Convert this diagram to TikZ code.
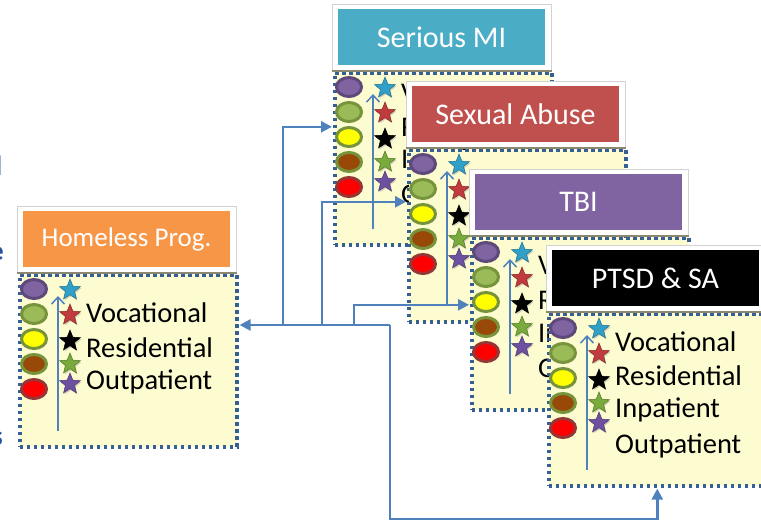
\documentclass[tikz,border=0pt]{standalone}
\usepackage{fontspec}
\setmainfont{Carlito}
\usetikzlibrary{arrows.meta,shapes.geometric,shadows}

\definecolor{bodyfill}{RGB}{252,252,208}
\definecolor{dotblue}{RGB}{54,96,146}
\definecolor{linkblue}{RGB}{79,129,189}
\definecolor{fragblue}{RGB}{35,82,160}
\definecolor{hporange}{RGB}{247,150,70}
\definecolor{smiteal}{RGB}{75,172,198}
\definecolor{sared}{RGB}{192,80,77}
\definecolor{tbipurple}{RGB}{128,100,162}
\definecolor{ovpurple}{RGB}{128,100,162}
\definecolor{ovpurpleedge}{RGB}{95,73,122}
\definecolor{ovgreen}{RGB}{155,187,89}
\definecolor{ovolive}{RGB}{119,147,60}
\definecolor{ovyellow}{RGB}{255,255,0}
\definecolor{ovbrown}{RGB}{152,72,7}
\definecolor{ovred}{RGB}{255,0,0}
\definecolor{ovrededge}{RGB}{149,55,53}
\definecolor{starcyan}{RGB}{49,160,200}
\definecolor{starred}{RGB}{192,60,60}
\definecolor{stargreen}{RGB}{120,170,60}
\definecolor{starpurple}{RGB}{110,80,160}
\definecolor{basegray}{RGB}{140,136,112}

\tikzset{
  panelbody/.style={draw=dotblue, fill=bodyfill, line width=3.6pt,
    dash pattern=on 3.6pt off 3.4pt, minimum width=217pt, minimum height=172pt,
    anchor=north west, inner sep=0pt},
  titleframe/.style={draw=gray!35, fill=white, line width=0.8pt,
    minimum width=219pt, minimum height=66pt, anchor=south west, inner sep=0pt},
  titlebar/.style={fill=#1, minimum width=207pt, minimum height=56pt,
    inner sep=0pt, text=white, font=\fontsize{30}{32}\selectfont},
  framebase/.style={draw=basegray, line width=2.5pt},
  dot/.style={ellipse, minimum width=25pt, minimum height=19pt,
    inner sep=0pt, line width=3pt},
  rankstar/.style={star, star points=5, star point ratio=2.3, fill=#1,
    draw=#1!70!black, line width=0.5pt, minimum size=22pt, inner sep=0pt,
    drop shadow={shadow xshift=1pt, shadow yshift=-1.5pt, opacity=0.35}},
  itemtext/.style={anchor=west, inner sep=0pt, font=\fontsize{28.5}{30}\selectfont},
  fragtext/.style={anchor=east, inner sep=0pt, text=fragblue,
    font=\bfseries\fontsize{28}{30}\selectfont},
  rise/.style={draw=linkblue, line width=1.5pt, -{Straight Barb[length=7pt,width=13pt]}},
  link/.style={draw=linkblue, line width=2.5pt, shorten >=1pt,
    -{Triangle[length=11pt,width=11pt]}},
}

% #1 name, #2 x, #3 y of body top-left, #4 bar colour, #5 title, #6 item list
\newcommand{\carepanel}[6]{%
  \begin{scope}[shift={(#2,#3)}]
    \node[panelbody] (#1Body) at (0,0) {};
    \node[titleframe] (#1Frame) at (-1,0) {};
    \node[titlebar=#4] (#1Title) at (108.5,-34) {#5};
    \draw[framebase] (#1Frame.south west) -- (#1Frame.south east);
    \foreach \fc/\ec [count=\i] in {ovpurple/ovpurpleedge, ovgreen/ovolive,
        ovyellow/ovolive, ovbrown/ovolive, ovred/ovrededge}
      \node[dot, fill=\fc, draw=\ec] (#1Dot\i) at (16,{16+25*(\i-1)}) {};
    \coordinate (#1Low) at (40,158);
    \coordinate (#1High) at (40,23);
    \draw[rise] (#1Low) -- (#1High);
    \foreach \sc/\sy [count=\i] in {starcyan/17, starred/42, black/68,
        stargreen/91, starpurple/111}
      \node[rankstar=\sc] (#1Star\i) at (52,\sy) {};
    \foreach \ty/\tx [count=\i] in {#6}
      \node[itemtext] (#1Item\i) at (68,\ty) {\tx};
  \end{scope}}

\begin{document}
\begin{tikzpicture}[x=1pt, y=-1pt]
  \useasboundingbox (0,0) rectangle (761,523);

  % cut-off letters at the left edge
  \node[fragtext] (fragA) at (2.5,166) {l};
  \node[fragtext] (fragB) at (4,254) {e};
  \node[fragtext] (fragC) at (3,439) {s};

  \carepanel{hp}{18}{273}{hporange}{{\fontsize{27}{29}\selectfont Homeless Prog.}}
    {40/Vocational, 75/Residential, 109/Outpatient}
  \carepanel{smi}{333}{71}{smiteal}{Serious MI}
    {22/Vocational, 56/Residential, 90/Inpatient, 125/Outpatient}
  \carepanel{sa}{407}{148}{sared}{Sexual Abuse}
    {38/Vocational, 72/Residential, 106/Inpatient, 140/Outpatient}
  \carepanel{tbi}{470}{236}{tbipurple}{TBI}
    {29/Vocational, 64/Residential, 99/Inpatient, 134/Outpatient}
  \carepanel{ptsd}{547}{312}{black}{PTSD \& SA}
    {30/Vocational, 64/Residential, 98/Inpatient, 134/Outpatient}

  % referral lines
  \coordinate (hub) at (390,325);
  \coordinate (smiFork) at (283,325);
  \coordinate (saFork) at (322,325);
  \coordinate (tbiFork) at (354,325);
  \coordinate (loopLow) at (390,519);
  \draw[link] (hub) -- (hpBody.east |- hub);
  \draw[link] (smiFork) |- ([yshift=32pt]smiBody.west);
  \draw[link] (saFork) |- ([yshift=34pt]saBody.west);
  \draw[link] (tbiFork) |- ([yshift=19pt]tbiBody.west);
  \draw[link] (hub) -- (loopLow) -| (ptsdBody.south);
\end{tikzpicture}
\end{document}
